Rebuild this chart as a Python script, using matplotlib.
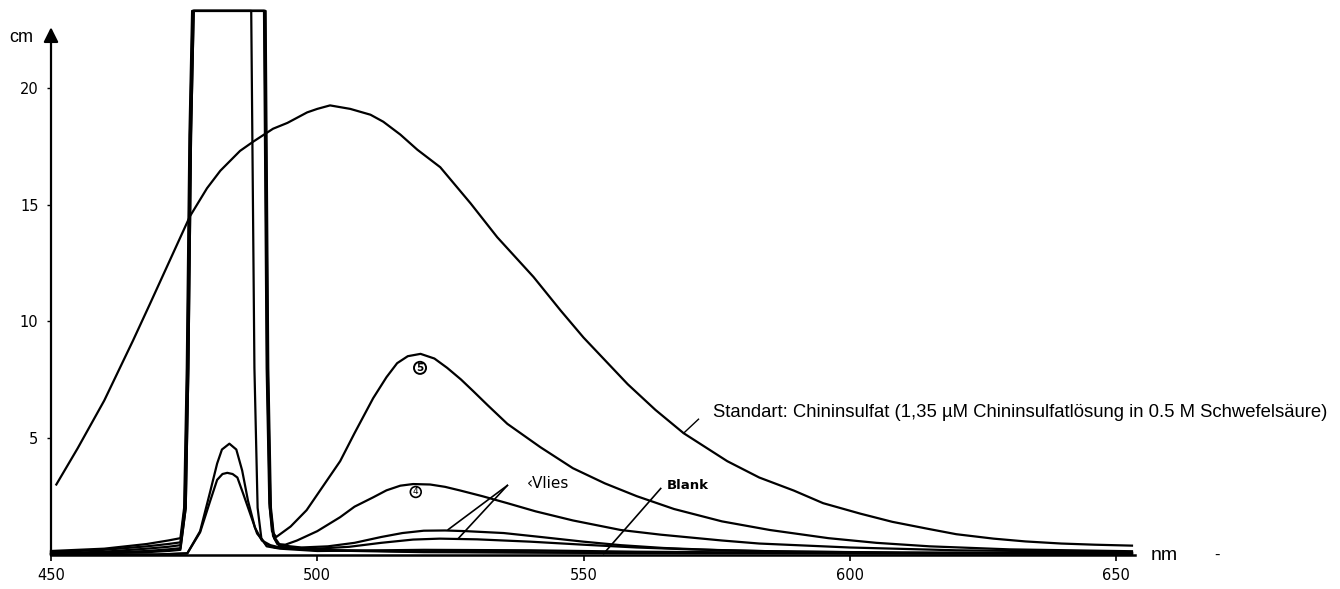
import matplotlib
matplotlib.use("Agg")
import matplotlib.pyplot as plt

# Standard: Chininsulfat
nm_std = [451, 455, 460, 465.4, 468.6, 471.4, 473, 476.1, 479.3, 481.8, 485.5, 488, 491.7, 494.4,
          498.1, 500, 502.4, 506.2, 510, 512.4, 515.6, 518.8, 523.1, 528.8, 533.8, 540.6, 545.7,
          550, 558.3, 563.5, 568.8, 577, 583, 589.5, 595, 602, 608, 614.7, 620, 627, 633,
          639.7, 646, 653]
cm_std = [3.0, 4.55, 6.6, 9.17, 10.75, 12.15, 12.95, 14.5, 15.7, 16.45, 17.3, 17.7, 18.25, 18.5,
          18.95, 19.1, 19.25, 19.1, 18.85, 18.55, 18.0, 17.35, 16.6, 15.05, 13.6, 11.9, 10.46,
          9.3, 7.3, 6.2, 5.2, 4.0, 3.3, 2.74, 2.2, 1.75, 1.4, 1.1, 0.87, 0.68, 0.56,
          0.47, 0.42, 0.38]

# Probe 5 (saturated scatter band, then emission)
nm_p5 = [450, 460, 468, 472, 474.3, 475.0, 475.5, 476.0, 476.5, 483, 490.0, 490.5, 491.0, 491.5,
         492.3, 495, 498, 501, 504.3, 507, 510.5, 513, 515, 517, 519.4, 522, 524.4, 527, 529.3,
         532, 535.7, 541.9, 548, 554, 560, 567, 576, 585, 596, 605, 615, 630, 653]
cm_p5 = [0.15, 0.25, 0.45, 0.6, 0.7, 2.0, 8.0, 18.0, 23.3, 23.3, 23.3, 8.0, 2.2, 1.0,
         0.75, 1.2, 1.9, 2.9, 4.0, 5.2, 6.7, 7.6, 8.2, 8.5, 8.6, 8.4, 8.0, 7.5, 7.0,
         6.4, 5.6, 4.6, 3.7, 3.05, 2.5, 1.95, 1.42, 1.05, 0.7, 0.5, 0.35, 0.22, 0.14]

# Probe 4
nm_p4 = [450, 460, 468, 472, 474.3, 475.1, 475.6, 476.1, 476.6, 483, 490.1, 490.6, 491.1, 491.7,
         492.5, 494, 496.2, 500, 504.3, 507, 510.5, 513, 515.6, 518, 521.2, 524, 526.9, 531,
         535.7, 541, 548, 557, 564.5, 576, 583, 600, 620, 653]
cm_p4 = [0.1, 0.2, 0.35, 0.45, 0.52, 2.0, 8.0, 18.0, 23.3, 23.3, 23.3, 8.0, 2.0, 0.8,
         0.45, 0.42, 0.6, 1.0, 1.6, 2.05, 2.45, 2.75, 2.95, 3.02, 3.0, 2.9, 2.74, 2.5,
         2.2, 1.85, 1.46, 1.05, 0.85, 0.6, 0.47, 0.3, 0.18, 0.1]

# Vlies (two measurements)
nm_va = [450, 460, 468, 472, 474.3, 475.2, 475.7, 476.2, 476.7, 483, 490.2, 490.7, 491.2, 491.8,
         493, 497, 502, 507, 512, 516, 520, 524, 528, 535, 542, 550, 557, 565, 576, 590, 610, 653]
cm_va = [0.05, 0.12, 0.25, 0.33, 0.4, 2.0, 8.0, 18.0, 23.3, 23.3, 23.3, 8.0, 2.0, 0.8,
         0.4, 0.3, 0.35, 0.5, 0.75, 0.92, 1.02, 1.03, 1.0, 0.92, 0.75, 0.55, 0.4, 0.28, 0.18,
         0.12, 0.08, 0.05]
nm_vb = [450, 460, 468, 472, 474.3, 475.3, 475.8, 476.3, 476.8, 483, 490.3, 490.8, 491.3, 491.9,
         493, 500, 506, 512, 518, 523, 530, 540, 550, 560, 570, 585, 610, 653]
cm_vb = [0.03, 0.08, 0.15, 0.22, 0.27, 2.0, 8.0, 18.0, 23.3, 23.3, 23.3, 8.0, 2.0, 0.7,
         0.32, 0.25, 0.33, 0.5, 0.64, 0.68, 0.65, 0.55, 0.42, 0.3, 0.22, 0.14, 0.08, 0.05]

# Blank
nm_bl = [450, 460, 468, 472, 474.3, 475.3, 475.8, 476.3, 476.8, 483, 487.6, 488.2, 488.8, 489.5,
         490.5, 493, 500, 520, 540, 560, 600, 653]
cm_bl = [0.0, 0.05, 0.1, 0.15, 0.2, 2.0, 8.0, 18.0, 23.3, 23.3, 23.3, 8.0, 2.0, 0.7,
         0.35, 0.25, 0.15, 0.2, 0.18, 0.12, 0.06, 0.04]

# scatter peaks (not saturated)
nm_sa = [450, 470, 475.6, 478, 479.9, 481.2, 482.1, 483.5, 484.8, 485.9, 487, 488.3, 489.6,
         491.2, 493, 500, 520, 560, 653]
cm_sa = [0.0, 0.0, 0.05, 1.0, 2.7, 3.9, 4.5, 4.75, 4.5, 3.6, 2.3, 1.15, 0.6,
         0.4, 0.3, 0.2, 0.12, 0.08, 0.05]
nm_sb = [450, 470, 475.6, 478, 479.9, 481.2, 482.2, 483.1, 484.1, 485, 486.1, 487.4, 488.7,
         490.2, 492, 500, 520, 560, 653]
cm_sb = [0.0, 0.0, 0.05, 0.95, 2.3, 3.2, 3.45, 3.5, 3.45, 3.3, 2.6, 1.75, 0.9,
         0.47, 0.3, 0.18, 0.1, 0.06, 0.03]

x_ticks = [450, 500, 550, 600, 650]
y_ticks = [5, 10, 15, 20]

W, H = 1340, 589
fig = plt.figure(figsize=(W / 100, H / 100), dpi=100)
# x: 450 -> px 51, 650 -> px 1116 ; y: 0 -> px 554.5, 23.33 px per cm
ax = fig.add_axes([51 / W, (H - 554.5) / H, (1116 - 51) / W, 23.5 * 23.33 / H])
ax.set_xlim(450, 650)
ax.set_ylim(0, 23.5)
for s in ax.spines.values():
    s.set_visible(False)

kw = dict(color="black", lw=1.6, clip_on=False, solid_joinstyle="round")
ax.plot(nm_std, cm_std, **kw)
for xs, ys in [(nm_p5, cm_p5), (nm_p4, cm_p4), (nm_va, cm_va), (nm_vb, cm_vb), (nm_bl, cm_bl),
               (nm_sa, cm_sa), (nm_sb, cm_sb)]:
    ax.plot(xs, ys, **kw)

# axes lines
ax.plot([450, 653.5], [0, 0], color="black", lw=1.8, clip_on=False)
ax.annotate("", xy=(450, 22.6), xytext=(450, 0), annotation_clip=False,
            arrowprops=dict(arrowstyle="-|>", color="black", lw=1.6, mutation_scale=22,
                            shrinkA=0, shrinkB=0))

ax.set_xticks(x_ticks)
ax.set_xticklabels([str(t) for t in x_ticks])
ax.set_yticks(y_ticks)
ax.set_yticklabels([str(t) for t in y_ticks])
ax.tick_params(axis="x", direction="out", length=4, width=1.2, pad=6, labelsize=10.5)
ax.tick_params(axis="y", direction="out", length=3, width=1, pad=6, labelsize=10.5)
for lab in ax.get_xticklabels() + ax.get_yticklabels():
    lab.set_family("DejaVu Sans")

fig.text(9 / W, 1 - 38 / H, "cm", fontsize=13, family="Liberation Sans", va="center", ha="left")
fig.text(1151 / W, 1 - 555 / H, "nm", fontsize=14, family="Liberation Sans", va="center", ha="left")
fig.text(1214 / W, 1 - 555 / H, "-", fontsize=12, family="Liberation Sans", va="center", ha="left")

# labels
ax.text(574.3, 6.1, "Standart: Chininsulfat (1,35 µM Chininsulfatlösung in 0.5 M Schwefelsäure)",
        fontsize=13.3, family="Liberation Sans", va="center", ha="left", clip_on=False)
ax.plot([568.8, 571.6], [5.2, 5.8], color="black", lw=1.0, clip_on=False)

ax.text(519.3, 8.0, "5", fontsize=7.5, ha="center", va="center", fontweight="bold",
        bbox=dict(boxstyle="circle,pad=0.1", fc="none", ec="black", lw=1.4))
ax.text(518.5, 2.68, "4", fontsize=6.5, ha="center", va="center",
        bbox=dict(boxstyle="circle,pad=0.1", fc="none", ec="black", lw=1.2))

ax.text(539.4, 3.05, "‹Vlies", fontsize=11, ha="left", va="center", family="DejaVu Sans")
ax.plot([535.7, 524.6], [2.96, 1.07], color="black", lw=1.2)
ax.plot([535.7, 526.5], [2.96, 0.69], color="black", lw=1.2)

ax.text(565.6, 2.95, "Blank", fontsize=9.5, ha="left", va="center", family="DejaVu Sans",
        fontweight="bold")
ax.plot([564.5, 553.8], [2.83, 0.04], color="black", lw=1.2)

fig.savefig("out.png", dpi=100)
